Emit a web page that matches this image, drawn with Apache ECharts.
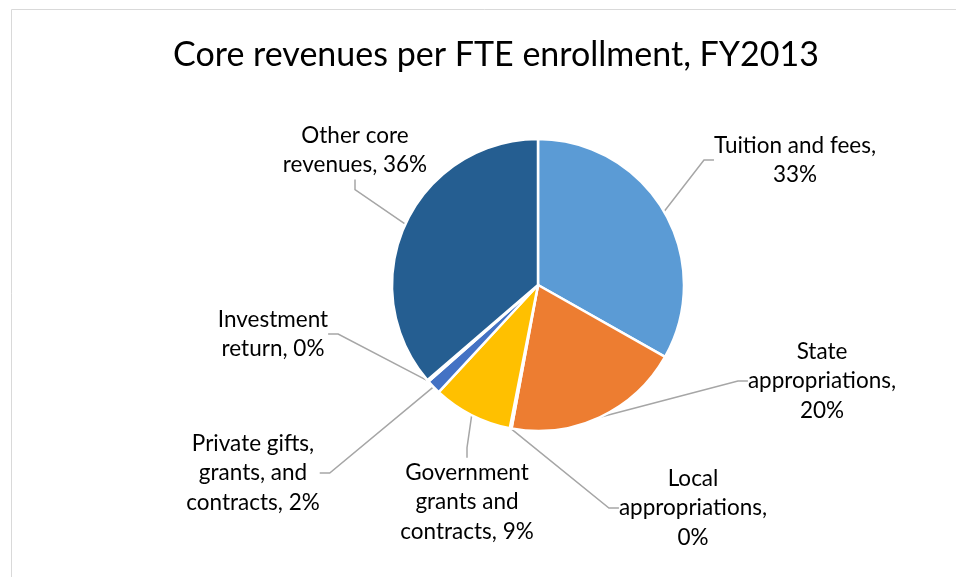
<!DOCTYPE html>
<html>
<head>
<meta charset="utf-8">
<script src="https://cdn.jsdelivr.net/npm/echarts@6/dist/echarts.min.js"></script>
<style>
  html, body { margin: 0; padding: 0; background: #fff; }
  #main { width: 956px; height: 577px; }
</style>
</head>
<body>
<div id="main"></div>
<script>
// chart data
var categories = [
    'Tuition and fees',
    'State appropriations',
    'Local appropriations',
    'Government grants and contracts',
    'Private gifts, grants, and contracts',
    'Investment return',
    'Other core revenues'
];
var shares = [33.2, 19.7, 0.2, 8.8, 1.6, 0.2, 36.3];
var labelTexts = [
    'Tuition and fees,\n',
    'State\nappropriations,\n',
    'Local\nappropriations,\n',
    'Government\ngrants and\ncontracts, ',
    'Private gifts,\ngrants, and\ncontracts, ',
    'Investment\nreturn, ',
    'Other core\nrevenues, '
];
var colors = ['#5B9BD5', '#ED7D31', '#A5A5A5', '#FFC000', '#4472C4', '#70AD47', '#255E91'];

// label centres (layout only)
var labelPos = [
    [795, 160], [822, 381], [693, 508], [467, 502], [253, 473], [273, 334], [355, 150]
];

var chart = echarts.init(document.getElementById('main'));
var font = 'Lato, "Noto Sans", sans-serif';

var option = {
    animation: false,
    title: {
        text: 'Core revenues per FTE enrollment, FY2013',
        left: 491,
        top: 33,
        textAlign: 'center',
        textStyle: { fontFamily: font, fontSize: 34, fontWeight: 'normal', color: '#000' }
    },
    graphic: [{
        type: 'rect',
        shape: { x: 11.5, y: 9.5, width: 1000, height: 1000 },
        style: { fill: 'none', stroke: '#d9d9d9', lineWidth: 1 },
        silent: true
    }],
    series: [{
        type: 'pie',
        center: [538, 285],
        radius: [0, 146],
        startAngle: 90,
        clockwise: true,
        minAngle: 0,
        avoidLabelOverlap: false,
        itemStyle: { borderColor: '#fff', borderWidth: 2.5 },
        label: {
            show: true,
            fontFamily: font,
            fontSize: 22.5,
            lineHeight: 29.5,
            color: '#000',
            align: 'center',
            formatter: function (p) {
                return labelTexts[p.dataIndex] + Math.round(p.percent) + '%';
            }
        },
        labelLine: {
            show: true,
            length: 20,
            length2: 10,
            lineStyle: { color: '#a6a6a6', width: 1.5 }
        },
        labelLayout: function (p) {
            var pos = labelPos[p.dataIndex];
            return { x: pos[0], y: pos[1], align: 'center', verticalAlign: 'middle' };
        },
        data: categories.map(function (c, i) {
            return { name: c, value: shares[i], itemStyle: { color: colors[i] } };
        })
    }]
};
chart.setOption(option);
</script>
</body>
</html>
